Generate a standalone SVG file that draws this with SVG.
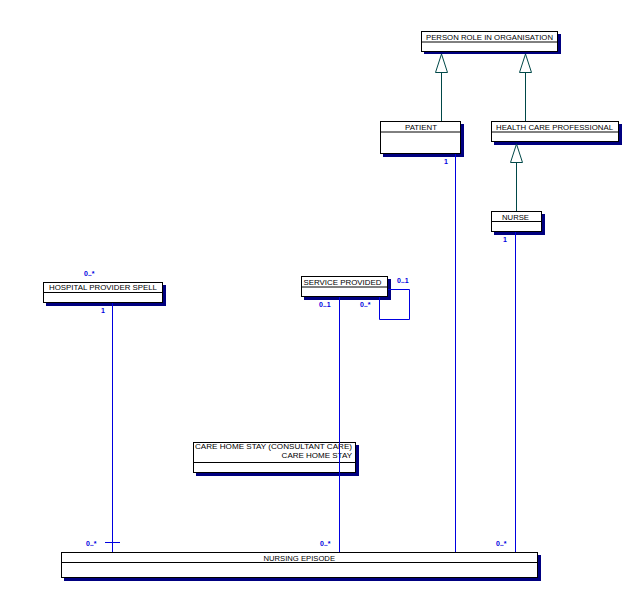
<svg xmlns="http://www.w3.org/2000/svg" width="632" height="591" viewBox="0 0 632 591">
<style>
.bx{fill:#fff;stroke:#000;stroke-width:1}
.sh{fill:#000080}
.dv{stroke:#000;stroke-width:1}
.t{font-family:"Liberation Sans",Arial,sans-serif;font-size:8px;fill:#000}
.m{font-family:"Liberation Sans",Arial,sans-serif;font-size:7px;font-weight:bold;fill:#0000e0}
.as{fill:none;stroke:#0000e0;stroke-width:1}
.gn{fill:none;stroke:#004848;stroke-width:1}
.tri{fill:#fff;stroke:#004848;stroke-width:1}
</style>
<rect width="632" height="591" fill="#fff"/>
<g id="person-role">
<rect class="sh" x="424" y="34" width="137" height="20"/>
<rect class="bx" x="421.5" y="31.5" width="136" height="20"/>
<line class="dv" x1="421.5" y1="42" x2="557.5" y2="42"/>
<text class="t" x="426" y="39.5" textLength="127" lengthAdjust="spacingAndGlyphs">PERSON ROLE IN ORGANISATION</text>
</g>
<g id="patient">
<rect class="sh" x="383" y="124" width="81" height="33"/>
<rect class="bx" x="380.5" y="121.5" width="80" height="32"/>
<line class="dv" x1="380.5" y1="132" x2="460.5" y2="132"/>
<text class="t" x="405" y="129.5" textLength="32" lengthAdjust="spacingAndGlyphs">PATIENT</text>
</g>
<g id="health-care-professional">
<rect class="sh" x="494" y="124" width="128" height="21"/>
<rect class="bx" x="491.5" y="121.5" width="127" height="20"/>
<line class="dv" x1="491.5" y1="132" x2="618.5" y2="132"/>
<text class="t" x="496" y="129.5" textLength="117" lengthAdjust="spacingAndGlyphs">HEALTH CARE PROFESSIONAL</text>
</g>
<g id="nurse">
<rect class="sh" x="494" y="214" width="51" height="21"/>
<rect class="bx" x="491.5" y="211.5" width="50" height="20"/>
<line class="dv" x1="491.5" y1="221.5" x2="541.5" y2="221.5"/>
<text class="t" x="502" y="219.5" textLength="27" lengthAdjust="spacingAndGlyphs">NURSE</text>
</g>
<g id="hospital-provider-spell">
<rect class="sh" x="46" y="285" width="120" height="21"/>
<rect class="bx" x="43.5" y="282.5" width="119" height="20"/>
<line class="dv" x1="43.5" y1="292.5" x2="162.5" y2="292.5"/>
<text class="t" x="49" y="290" textLength="108" lengthAdjust="spacingAndGlyphs">HOSPITAL PROVIDER SPELL</text>
</g>
<g id="service-provided">
<rect class="sh" x="304" y="279" width="87" height="21"/>
<rect class="bx" x="301.5" y="276.5" width="86" height="20"/>
<line class="dv" x1="301.5" y1="287" x2="387.5" y2="287"/>
<text class="t" x="303.5" y="284.5" textLength="78" lengthAdjust="spacingAndGlyphs">SERVICE PROVIDED</text>
</g>
<g id="care-home-stay">
<rect class="sh" x="196" y="445" width="163" height="31"/>
<rect class="bx" x="193.5" y="442.5" width="162" height="30"/>
<line class="dv" x1="193.5" y1="462.5" x2="355.5" y2="462.5"/>
<text class="t" x="195" y="449" textLength="157" lengthAdjust="spacingAndGlyphs">CARE HOME STAY (CONSULTANT CARE)</text>
<text class="t" x="352" y="457.5" text-anchor="end">CARE HOME STAY</text>
</g>
<g id="nursing-episode">
<rect class="sh" x="64" y="555" width="477" height="26"/>
<rect class="bx" x="61.5" y="552.5" width="476" height="25"/>
<line class="dv" x1="61.5" y1="562.5" x2="537.5" y2="562.5"/>
<text class="t" x="263.5" y="560.5" textLength="71.5" lengthAdjust="spacingAndGlyphs">NURSING EPISODE</text>
</g>
<g id="connectors">
<line class="gn" x1="441.5" y1="72.5" x2="441.5" y2="121"/>
<polygon class="tri" points="441.5,54 435.5,72.5 447.5,72.5"/>
<line class="gn" x1="525.5" y1="72.5" x2="525.5" y2="121"/>
<polygon class="tri" points="525.5,54 519.5,72.5 531.5,72.5"/>
<line class="gn" x1="516.5" y1="162.5" x2="516.5" y2="211"/>
<polygon class="tri" points="516.5,144 510.5,162.5 522.5,162.5"/>
<line class="as" x1="112.5" y1="303" x2="112.5" y2="552"/>
<line class="as" x1="105" y1="542.5" x2="120" y2="542.5"/>
<line class="as" x1="339.5" y1="297" x2="339.5" y2="552"/>
<line class="as" x1="455.5" y1="154" x2="455.5" y2="552"/>
<line class="as" x1="515.5" y1="232" x2="515.5" y2="552"/>
<polyline class="as" points="388,289.5 409.5,289.5 409.5,319.5 379.5,319.5 379.5,297"/>
<text class="m" x="444" y="163.5">1</text>
<text class="m" x="503" y="241.5">1</text>
<text class="m" x="84" y="275.5">0..*</text>
<text class="m" x="101" y="312.5">1</text>
<text class="m" x="319" y="307">0..1</text>
<text class="m" x="360" y="307">0..*</text>
<text class="m" x="397" y="283">0..1</text>
<text class="m" x="86" y="545.5">0..*</text>
<text class="m" x="320" y="545.5">0..*</text>
<text class="m" x="496" y="545.5">0..*</text>
</g>
</svg>
